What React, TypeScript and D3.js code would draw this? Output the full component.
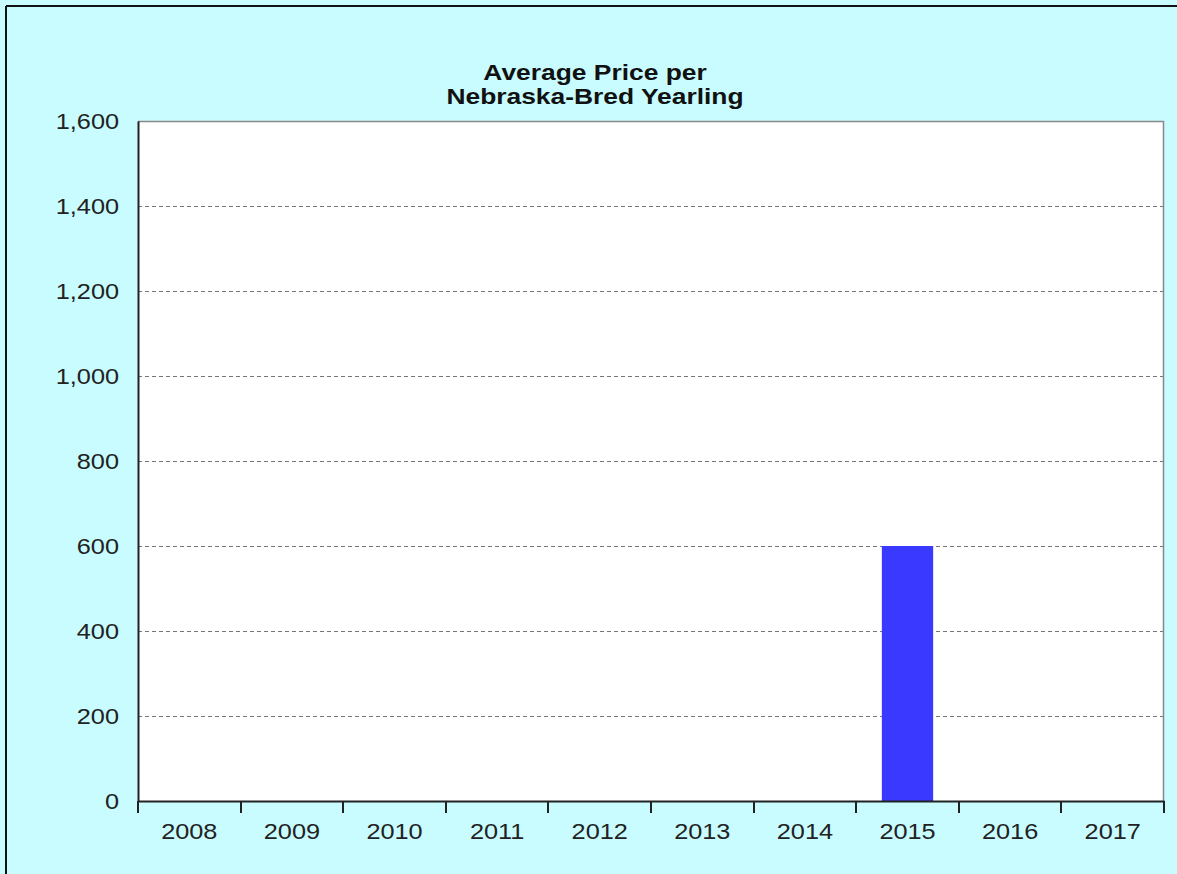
import React, { useEffect, useRef } from "react";
import * as d3 from "d3";

const years = ["2008", "2009", "2010", "2011", "2012", "2013", "2014", "2015", "2016", "2017"];
const prices = [0, 0, 0, 0, 0, 0, 0, 600, 0, 0];
const yTicks = [0, 200, 400, 600, 800, 1000, 1200, 1400, 1600];
const titleLines = ["Average Price per", "Nebraska-Bred Yearling"];

const FONT = "Arial, 'Liberation Sans', sans-serif";

const App: React.FC = () => {
  const svgRef = useRef<SVGSVGElement | null>(null);

  useEffect(() => {
    if (!svgRef.current) return;
    const W = 1177;
    const H = 874;
    const margin = { top: 121, right: 13, bottom: 73, left: 138 };
    const width = W - margin.left - margin.right;
    const height = H - margin.top - margin.bottom;

    const root = d3.select(svgRef.current);
    root.selectAll("*").remove();
    root.attr("width", W).attr("height", H);

    // background + frame
    root.append("rect").attr("x", 0).attr("y", 0).attr("width", W).attr("height", H).attr("fill", "#c8fcff");
    root.append("line").attr("x1", 6).attr("x2", W).attr("y1", 6).attr("y2", 6).attr("stroke", "#111").attr("stroke-width", 2);
    root.append("line").attr("x1", 6).attr("x2", 6).attr("y1", 6).attr("y2", H).attr("stroke", "#111").attr("stroke-width", 2);

    // title (the source is a bit stretched horizontally)
    root.append("g")
      .selectAll("text")
      .data(titleLines)
      .enter()
      .append("text")
      .attr("transform", (d, i) => `translate(595,${80 + i * 24}) scale(1.2,1)`)
      .attr("text-anchor", "middle")
      .style("font-family", FONT)
      .style("font-weight", "bold")
      .style("font-size", "22px")
      .attr("fill", "#111")
      .text(d => d);

    const svg = root.append("g").attr("transform", `translate(${margin.left},${margin.top})`);

    const x = d3.scaleBand<string>().domain(years).range([0, width]).paddingInner(0).paddingOuter(0);
    const y = d3.scaleLinear().domain([0, 1600]).range([height, 0]);

    svg.append("rect").attr("width", width).attr("height", height).attr("fill", "#ffffff");

    // gridlines
    svg.append("g")
      .selectAll("line")
      .data(yTicks.filter(t => t > 0 && t < 1600))
      .enter()
      .append("line")
      .attr("x1", 0)
      .attr("x2", width)
      .attr("y1", d => Math.round(y(d)) + 0.5)
      .attr("y2", d => Math.round(y(d)) + 0.5)
      .attr("stroke", "#777")
      .attr("stroke-dasharray", "4,3");

    // plot border top/right
    svg.append("path")
      .attr("d", `M0,0.5H${width - 0.5}V${height}`)
      .attr("fill", "none")
      .attr("stroke", "#888")
      .attr("stroke-width", 1.5);

    // bars
    const barW = x.bandwidth() * 0.5;
    svg.append("g")
      .selectAll("rect")
      .data(years.map((yr, i) => ({ yr, v: prices[i] })))
      .enter()
      .append("rect")
      .attr("x", d => x(d.yr)! + (x.bandwidth() - barW) / 2)
      .attr("y", d => y(d.v))
      .attr("width", barW)
      .attr("height", d => height - y(d.v))
      .attr("fill", "#3939ff");

    // axis lines
    const yAxis = svg.append("g").call(d3.axisLeft(y).tickValues(yTicks).tickSize(0).tickFormat(() => ""));
    yAxis.select(".domain").attr("stroke", "#222").attr("stroke-width", 2);
    const xAxis = svg.append("g")
      .attr("transform", `translate(0,${height})`)
      .call(d3.axisBottom(x).tickSize(0).tickFormat(() => ""));
    xAxis.select(".domain").attr("stroke", "#222").attr("stroke-width", 2);

    // y labels
    const fmt = d3.format(",");
    svg.append("g")
      .selectAll("text")
      .data(yTicks)
      .enter()
      .append("text")
      .attr("transform", d => `translate(-19,${y(d)}) scale(1.15,1)`)
      .attr("dy", "0.35em")
      .attr("text-anchor", "end")
      .style("font-family", FONT)
      .style("font-size", "22px")
      .attr("fill", "#222")
      .text(d => fmt(d));

    // x labels
    svg.append("g")
      .selectAll("text")
      .data(years)
      .enter()
      .append("text")
      .attr("transform", d => `translate(${x(d)! + x.bandwidth() / 2},${height + 38}) scale(1.15,1)`)
      .attr("text-anchor", "middle")
      .style("font-family", FONT)
      .style("font-size", "22px")
      .attr("fill", "#222")
      .text(d => d);

    // boundary tick marks
    svg.append("g")
      .selectAll("line")
      .data(d3.range(years.length + 1))
      .enter()
      .append("line")
      .attr("x1", i => Math.round(i * x.step()))
      .attr("x2", i => Math.round(i * x.step()))
      .attr("y1", height)
      .attr("y2", height + 12)
      .attr("stroke", "#222")
      .attr("stroke-width", 2);
  }, []);

  return <svg ref={svgRef} style={{ position: "absolute", left: 0, top: 0 }}></svg>;
};

export default App;
